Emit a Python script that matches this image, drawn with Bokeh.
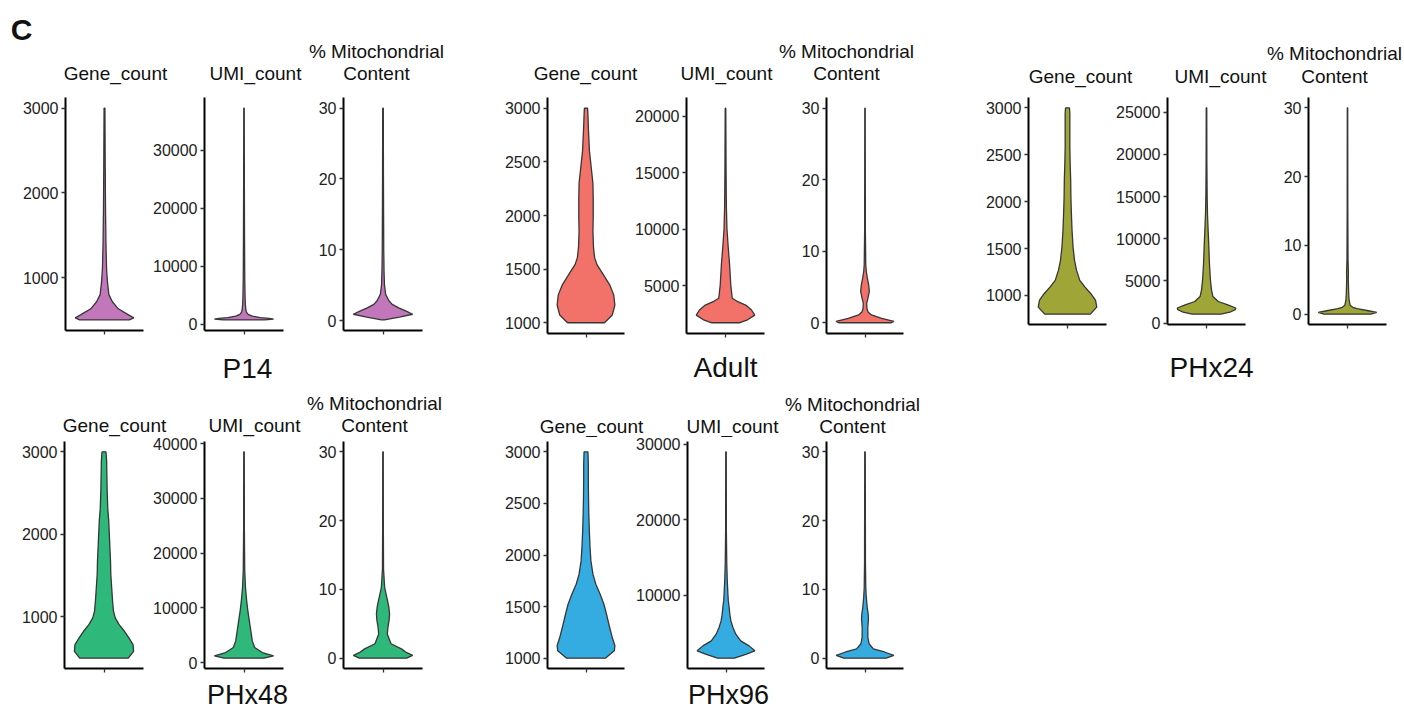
from bokeh.plotting import figure
from bokeh.layouts import column, row
from bokeh.models import Range1d, FixedTicker, BasicTickFormatter
from bokeh.embed import file_html
from bokeh.resources import INLINE
from bokeh.core.properties import value

FONT = "Liberation Sans"

# ---- data: violin profiles (value, relative density 0..1) per sample ----
groups = ["P14", "Adult", "PHx24", "PHx48", "PHx96"]
metric_titles = ["Gene_count", "UMI_count", ["% Mitochondrial", "Content"]]
group_colors = ["#C277BA", "#F2726A", "#A0A537", "#2EB879", "#35ACE1"]

p14_gene_y = [500, 524, 560, 631, 714, 798, 952, 1107, 1400, 1800, 2300, 3000]
p14_gene_d = [0.85, 1.0, 0.82, 0.47, 0.27, 0.15, 0.10, 0.07, 0.05, 0.035, 0.025, 0.015]
p14_umi_y = [750, 900, 1000, 1150, 1400, 1700, 2100, 2600, 3500, 5000, 8000, 15000, 25000, 37300]
p14_umi_d = [0.70, 1.0, 0.85, 0.55, 0.28, 0.14, 0.08, 0.06, 0.045, 0.035, 0.025, 0.018, 0.012, 0.008]
p14_mito_y = [0.1, 0.5, 0.9, 1.3, 1.8, 2.3, 2.8, 3.7, 5, 7, 10, 20, 30]
p14_mito_d = [0.05, 0.55, 1.0, 0.80, 0.53, 0.31, 0.20, 0.09, 0.05, 0.035, 0.025, 0.015, 0.01]

adult_gene_y = [1000, 1072, 1166, 1260, 1354, 1448, 1542, 1605, 1700, 1850, 2000, 2150, 2300, 2450, 2600, 2800, 2950, 3000]
adult_gene_d = [0.64, 0.91, 1.0, 0.96, 0.82, 0.60, 0.38, 0.30, 0.26, 0.24, 0.25, 0.25, 0.24, 0.18, 0.12, 0.085, 0.065, 0.055]
adult_umi_y = [1700, 1930, 2380, 2830, 3270, 3600, 3870, 5060, 6850, 8500, 10000, 12000, 15000, 20700]
adult_umi_d = [0.47, 0.73, 1.0, 0.89, 0.69, 0.40, 0.23, 0.18, 0.14, 0.09, 0.05, 0.03, 0.02, 0.01]
adult_mito_y = [0, 0.2, 0.6, 1.1, 1.55, 2.0, 2.7, 3.4, 4.4, 5.3, 6.3, 7.2, 8.1, 12.8, 30]
adult_mito_d = [0.91, 1.0, 0.58, 0.22, 0.10, 0.067, 0.058, 0.10, 0.15, 0.127, 0.078, 0.044, 0.027, 0.013, 0.007]

phx24_gene_y = [800, 875, 947, 1018, 1089, 1160, 1267, 1374, 1516, 1694, 1872, 2050, 2228, 2406, 2584, 2762, 2940, 3000]
phx24_gene_d = [0.78, 1.0, 0.96, 0.80, 0.60, 0.42, 0.31, 0.24, 0.19, 0.155, 0.133, 0.116, 0.109, 0.091, 0.08, 0.08, 0.08, 0.067]
phx24_umi_y = [1070, 1300, 1600, 1800, 2170, 2570, 3160, 3950, 5140, 7110, 9090, 11070, 13040, 15000, 19000, 25500]
phx24_umi_d = [0.49, 0.80, 0.98, 1.0, 0.73, 0.40, 0.22, 0.17, 0.133, 0.10, 0.08, 0.055, 0.033, 0.022, 0.013, 0.009]
phx24_mito_y = [0, 0.25, 0.5, 0.8, 1.0, 1.3, 2, 3, 5, 6, 8, 15, 30]
phx24_mito_d = [0.8, 1.0, 0.71, 0.33, 0.18, 0.09, 0.055, 0.04, 0.027, 0.031, 0.018, 0.011, 0.007]

phx48_gene_y = [500, 583, 664, 745, 826, 907, 988, 1069, 1190, 1352, 1514, 1676, 1838, 2000, 2162, 2324, 2526, 2729, 2890, 3000]
phx48_gene_d = [0.82, 1.0, 0.98, 0.84, 0.69, 0.51, 0.38, 0.32, 0.29, 0.26, 0.23, 0.22, 0.20, 0.18, 0.16, 0.125, 0.107, 0.096, 0.089, 0.067]
phx48_umi_y = [800, 1220, 1830, 2740, 3960, 5790, 7620, 9450, 11280, 13700, 16800, 24100, 38500]
phx48_umi_d = [0.67, 1.0, 0.62, 0.36, 0.28, 0.23, 0.18, 0.13, 0.09, 0.05, 0.025, 0.013, 0.009]
phx48_mito_y = [0, 0.4, 0.8, 1.35, 2.1, 3.5, 4.5, 5.5, 6.4, 7.5, 8.5, 9.4, 10.3, 13, 20, 30]
phx48_mito_d = [0.8, 1.0, 0.8, 0.62, 0.27, 0.145, 0.167, 0.205, 0.222, 0.195, 0.145, 0.10, 0.055, 0.018, 0.011, 0.009]

phx96_gene_y = [1000, 1071, 1120, 1200, 1297, 1426, 1523, 1620, 1717, 1814, 1943, 2072, 2234, 2396, 2557, 2719, 2880, 3000]
phx96_gene_d = [0.67, 0.98, 1.0, 0.91, 0.82, 0.71, 0.62, 0.49, 0.34, 0.24, 0.17, 0.14, 0.115, 0.098, 0.087, 0.08, 0.08, 0.067]
phx96_umi_y = [1660, 2190, 2630, 3290, 3960, 4840, 5720, 6600, 7480, 8370, 9250, 10130, 11900, 14100, 18500, 29000]
phx96_umi_d = [0.29, 0.71, 1.0, 0.80, 0.51, 0.34, 0.24, 0.17, 0.133, 0.11, 0.08, 0.067, 0.044, 0.027, 0.013, 0.009]
phx96_mito_y = [0, 0.4, 0.9, 1.35, 2.1, 3.0, 4.5, 5.7, 6.4, 7.4, 8.9, 10.3, 13.7, 30]
phx96_mito_d = [0.73, 1.0, 0.67, 0.29, 0.14, 0.10, 0.098, 0.12, 0.11, 0.076, 0.044, 0.027, 0.016, 0.009]

# y-axis breaks per sample: gene, UMI, mito
p14_ticks = [[1000, 2000, 3000], [0, 10000, 20000, 30000], [0, 10, 20, 30]]
adult_ticks = [[1000, 1500, 2000, 2500, 3000], [5000, 10000, 15000, 20000], [0, 10, 20, 30]]
phx24_ticks = [[1000, 1500, 2000, 2500, 3000], [0, 5000, 10000, 15000, 20000, 25000], [0, 10, 20, 30]]
phx48_ticks = [[1000, 2000, 3000], [0, 10000, 20000, 30000, 40000], [0, 10, 20, 30]]
phx96_ticks = [[1000, 1500, 2000, 2500, 3000], [10000, 20000, 30000], [0, 10, 20, 30]]

profiles = {
    "P14": [(p14_gene_y, p14_gene_d), (p14_umi_y, p14_umi_d), (p14_mito_y, p14_mito_d)],
    "Adult": [(adult_gene_y, adult_gene_d), (adult_umi_y, adult_umi_d), (adult_mito_y, adult_mito_d)],
    "PHx24": [(phx24_gene_y, phx24_gene_d), (phx24_umi_y, phx24_umi_d), (phx24_mito_y, phx24_mito_d)],
    "PHx48": [(phx48_gene_y, phx48_gene_d), (phx48_umi_y, phx48_umi_d), (phx48_mito_y, phx48_mito_d)],
    "PHx96": [(phx96_gene_y, phx96_gene_d), (phx96_umi_y, phx96_umi_d), (phx96_mito_y, phx96_mito_d)],
}
ticks = {"P14": p14_ticks, "Adult": adult_ticks, "PHx24": phx24_ticks,
         "PHx48": phx48_ticks, "PHx96": phx96_ticks}
colors = dict(zip(groups, group_colors))

# ---- layout constants (pixels) ----
HALF_WIDTH = 0.45  # violin width 0.9 on a single discrete slot
row1_groups = ["P14", "Adult", "PHx24"]
row2_groups = ["PHx48", "PHx96"]
row1_borders = [(65, 78, 7), (54, 79, 7), (53, 79, 38), (87, 77, 6), (56, 78, 6),
                (56, 77, 7), (118, 78, 6), (55, 78, 6), (57, 78, 18)]
row1_frame_h = {"P14": (9, 233, 10), "Adult": (9, 236, 7), "PHx24": (9, 227, 16)}
row2_borders = [(64, 79, 7), (54, 79, 7), (53, 79, 38), (87, 77, 6), (57, 77, 6), (56, 77, 7)]
row2_frame_h = {"PHx48": (4, 227, 7), "PHx96": (4, 227, 7)}


def violin_panel(vals, dens, color, tick_list, lrb, tfb):
    left, fw, right = lrb
    top, fh, bottom = tfb
    lo, hi = min(vals), max(vals)
    pad = 0.05 * (hi - lo)
    p = figure(frame_width=fw, frame_height=fh,
               min_border_left=left, min_border_right=right,
               min_border_top=top, min_border_bottom=bottom,
               x_range=Range1d(0.4, 1.6), y_range=Range1d(lo - pad, hi + pad),
               output_backend="svg", toolbar_location=None,
               background_fill_color="white", border_fill_color="white")
    p.outline_line_color = None
    p.grid.visible = False
    xs = [1 - HALF_WIDTH * d for d in dens] + [1 + HALF_WIDTH * d for d in reversed(dens)]
    ys = list(vals) + list(reversed(vals))
    p.patch(xs, ys, fill_color=color, line_color="#363636", line_width=1.3)

    for ax in (p.xaxis[0], p.yaxis[0]):
        ax.axis_line_color = "black"
        ax.axis_line_width = 2
        ax.major_tick_line_color = "#333333"
        ax.major_tick_line_width = 1.3
        ax.major_tick_out = 4
        ax.major_tick_in = 0
        ax.minor_tick_line_color = None
    # single category slot: tick mark only, no label text
    p.xaxis.ticker = FixedTicker(ticks=[1])
    p.xaxis.major_label_text_color = None
    p.xaxis.major_label_text_font_size = "2px"
    p.xaxis.major_label_standoff = 0
    p.yaxis.ticker = FixedTicker(ticks=tick_list)
    p.yaxis.formatter = BasicTickFormatter(use_scientific=False)
    p.yaxis.major_label_text_font = FONT
    p.yaxis.major_label_text_font_size = "16px"
    p.yaxis.major_label_text_color = "#222222"
    p.yaxis.major_label_standoff = 3
    return p


def panel_row(row_groups, borders, heights):
    figs = []
    k = 0
    for g in row_groups:
        for m in range(3):
            vals, dens = profiles[g][m]
            figs.append(violin_panel(vals, dens, colors[g], ticks[g][m], borders[k], heights[g]))
            k += 1
    return row(*figs)


def text_strip(h, items, w=1404):
    s = figure(width=w, height=h, x_range=Range1d(0, w), y_range=Range1d(h, 0),
               x_axis_location=None, y_axis_location=None, min_border=0,
               output_backend="svg", toolbar_location=None,
               background_fill_color="white", border_fill_color="white")
    s.outline_line_color = None
    s.grid.visible = False
    for (x, y, txt, size, style) in items:
        s.text(x=[x], y=[y], text=[txt], text_font=value(FONT), text_font_size=size,
               text_font_style=style, text_align="center", text_baseline="middle",
               text_color="#111111")
    return s


def title_items(centers, y_line2, y_line1):
    items = []
    for (xg, xu, xm) in centers:
        items.append((xg, y_line2, metric_titles[0], "19px", "normal"))
        items.append((xu, y_line2, metric_titles[1], "19px", "normal"))
        items.append((xm, y_line1, metric_titles[2][0], "19px", "normal"))
        items.append((xm, y_line2, metric_titles[2][1], "19px", "normal"))
    return items


# top strip: panel letter and row-1 titles
top_items = [(21, 29, "C", "30px", "bold")]
top_items += title_items([(115, 255, 376), (585, 726, 846)], 73, 51)
top_items += title_items([(1080, 1220, 1334)], 76, 53)
strip_top = text_strip(88, top_items)

# middle strip: row-1 sample names and row-2 titles
mid_items = [(247, 28, "P14", "28px", "normal"),
             (725, 27, "Adult", "28px", "normal"),
             (1211, 27, "PHx24", "28px", "normal")]
mid_items += title_items([(114, 254, 374)], 85, 63)
mid_items += title_items([(591, 732, 852)], 86, 64)
strip_mid = text_strip(97, mid_items)

# bottom strip: row-2 sample names
bot_items = [(247, 19, "PHx48", "27px", "normal"),
             (728, 19, "PHx96", "27px", "normal")]
strip_bot = text_strip(35, bot_items)

layout = column(strip_top,
                panel_row(row1_groups, row1_borders, row1_frame_h),
                strip_mid,
                panel_row(row2_groups, row2_borders, row2_frame_h),
                strip_bot)

open("out.html", "w").write(file_html(layout, INLINE))
